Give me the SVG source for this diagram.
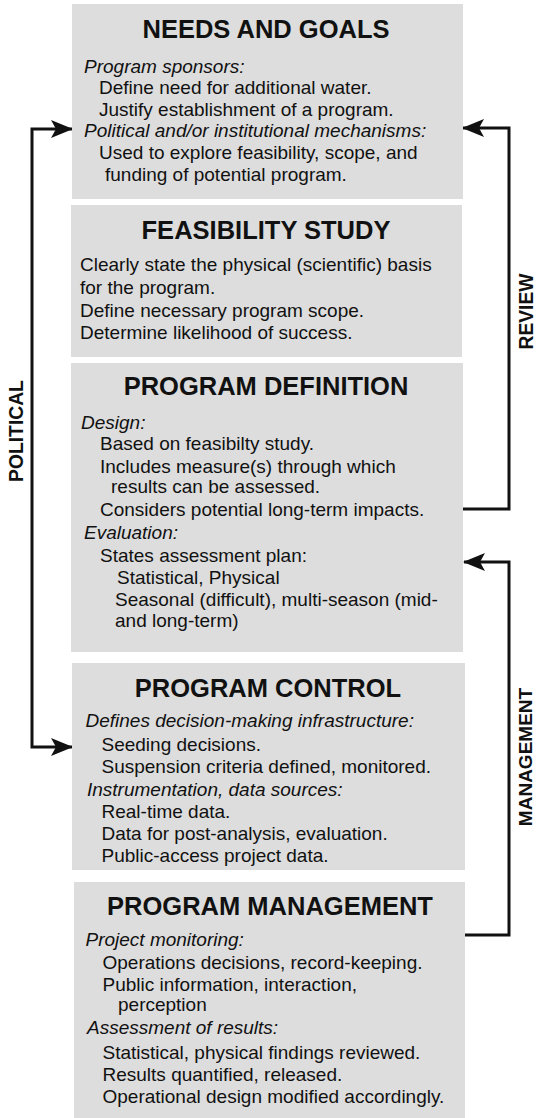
<svg xmlns="http://www.w3.org/2000/svg" width="536" height="1118" viewBox="0 0 536 1118">
<style>
.box{fill:#dddddd;stroke:none}
text{font-family:"Liberation Sans",Arial,sans-serif;fill:#111}
.t{font-size:25.5px;font-weight:bold;text-anchor:middle}
.b{font-size:19px}
.i{font-size:19px;font-style:italic}
.lab{font-size:19.3px;font-weight:bold;text-anchor:middle}
.con{fill:none;stroke:#111;stroke-width:3}
</style>
<defs>
<marker id="ah" viewBox="0 0 22 18" refX="21" refY="9" markerWidth="22" markerHeight="18" markerUnits="userSpaceOnUse" orient="auto-start-reverse">
<path d="M0,0 L22,9 L0,18 L5,9 z" fill="#111"/>
</marker>
</defs>
<rect width="536" height="1118" fill="#ffffff"/>

<g id="connectors">
<path class="con" d="M72,129 H32 V747 H72" marker-start="url(#ah)" marker-end="url(#ah)"/>
<path class="con" d="M463,509 H509 V128 H463" marker-end="url(#ah)"/>
<path class="con" d="M465,935 H509 V562 H464" marker-end="url(#ah)"/>
<text class="lab" transform="translate(22.5,431) rotate(-90)">POLITICAL</text>
<text class="lab" transform="translate(533,311.5) rotate(-90)">REVIEW</text>
<text class="lab" style="font-size:19px" transform="translate(531.5,757) rotate(-90)">MANAGEMENT</text>
</g>

<g id="needs">
<rect class="box" x="72" y="4" width="391" height="195"/>
<text class="t" x="266" y="38">NEEDS AND GOALS</text>
<text class="i" x="84" y="72.5">Program sponsors:</text>
<text class="b" x="99" y="94">Define need for additional water.</text>
<text class="b" x="99" y="115.6">Justify establishment of a program.</text>
<text class="i" x="84" y="137">Political and/or institutional mechanisms:</text>
<text class="b" x="99" y="159">Used to explore feasibility, scope, and</text>
<text class="b" x="105" y="181">funding of potential program.</text>
</g>

<g id="feasibility">
<rect class="box" x="71" y="205" width="391" height="152"/>
<text class="t" x="266" y="239">FEASIBILITY STUDY</text>
<text class="b" x="80" y="271">Clearly state the physical (scientific) basis</text>
<text class="b" x="80" y="294">for the program.</text>
<text class="b" x="80" y="317">Define necessary program scope.</text>
<text class="b" x="80" y="339">Determine likelihood of success.</text>
</g>

<g id="definition">
<rect class="box" x="71" y="363" width="392" height="289"/>
<text class="t" x="266" y="395">PROGRAM DEFINITION</text>
<text class="i" x="81" y="428.5">Design:</text>
<text class="b" x="100" y="450">Based on feasibilty study.</text>
<text class="b" x="100" y="473">Includes measure(s) through which</text>
<text class="b" x="111" y="492.5">results can be assessed.</text>
<text class="b" x="100" y="516">Considers potential long-term impacts.</text>
<text class="i" x="84" y="538.5">Evaluation:</text>
<text class="b" x="100" y="562">States assessment plan:</text>
<text class="b" x="117" y="583.5">Statistical, Physical</text>
<text class="b" x="115" y="606">Seasonal (difficult), multi-season (mid-</text>
<text class="b" x="115" y="627">and long-term)</text>
</g>

<g id="control">
<rect class="box" x="72" y="663" width="393" height="207"/>
<text class="t" x="268" y="697">PROGRAM CONTROL</text>
<text class="i" x="85.5" y="727">Defines decision-making infrastructure:</text>
<text class="b" x="101.5" y="751">Seeding decisions.</text>
<text class="b" x="101.5" y="773">Suspension criteria defined, monitored.</text>
<text class="i" x="87" y="795.5">Instrumentation, data sources:</text>
<text class="b" x="101.5" y="817.5">Real-time data.</text>
<text class="b" x="101.5" y="840">Data for post-analysis, evaluation.</text>
<text class="b" x="101.5" y="862">Public-access project data.</text>
</g>

<g id="management">
<rect class="box" x="74" y="882" width="391" height="240"/>
<text class="t" x="270" y="914.5">PROGRAM MANAGEMENT</text>
<text class="i" x="85.5" y="946">Project monitoring:</text>
<text class="b" x="102.5" y="968.5">Operations decisions, record-keeping.</text>
<text class="b" x="102.5" y="990.5">Public information, interaction,</text>
<text class="b" x="118" y="1011">perception</text>
<text class="i" x="87" y="1033.5">Assessment of results:</text>
<text class="b" x="102.5" y="1058.5">Statistical, physical findings reviewed.</text>
<text class="b" x="102.5" y="1080.5">Results quantified, released.</text>
<text class="b" x="102.5" y="1102.5">Operational design modified accordingly.</text>
</g>
</svg>
